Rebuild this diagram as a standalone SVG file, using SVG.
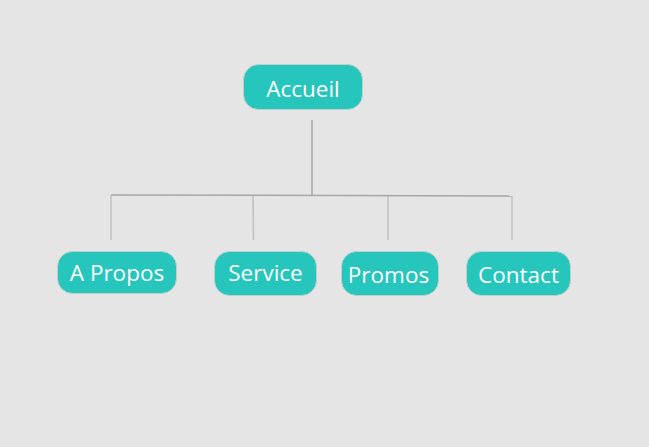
<svg xmlns="http://www.w3.org/2000/svg" width="649" height="447" viewBox="0 0 649 447">
<style>
.box{fill:#26c6bc;stroke:#bfcfcd;stroke-width:1}
.lbl{font-family:"Open Sans","Noto Sans",sans-serif;font-size:22.5px;fill:#ffffff;text-anchor:middle;dominant-baseline:central}
.ln{stroke:#a6a6a6;stroke-width:1.5;fill:none}
.ln2{stroke:#c0c0c0;stroke-width:1.5;fill:none}
</style>
<rect width="649" height="447" fill="#e5e5e5"/>
<g id="connectors">
<line class="ln" x1="312" y1="120" x2="312" y2="195"/>
<line class="ln" x1="111" y1="195" x2="512" y2="196"/>
<line class="ln2" x1="111" y1="195" x2="111" y2="240"/>
<line class="ln2" x1="253" y1="196" x2="253.5" y2="240"/>
<line class="ln2" x1="388" y1="196" x2="388" y2="240"/>
<line class="ln2" x1="512" y1="196" x2="512" y2="240"/>
</g>
<g id="accueil">
<rect class="box" x="243.5" y="64.5" width="119" height="45" rx="15"/>
<text class="lbl" x="303" y="88">Accueil</text>
</g>
<g id="apropos">
<rect class="box" x="57.5" y="251.5" width="119" height="42" rx="15"/>
<text class="lbl" x="117" y="272">A Propos</text>
</g>
<g id="service">
<rect class="box" x="214.5" y="251.5" width="102" height="44" rx="15"/>
<text class="lbl" x="265.5" y="272">Service</text>
</g>
<g id="promos">
<rect class="box" x="341.5" y="251.5" width="97" height="44" rx="15"/>
<text class="lbl" x="388.5" y="274">Promos</text>
</g>
<g id="contact">
<rect class="box" x="466.5" y="251.5" width="104" height="44" rx="15"/>
<text class="lbl" x="518.5" y="274">Contact</text>
</g>
</svg>
